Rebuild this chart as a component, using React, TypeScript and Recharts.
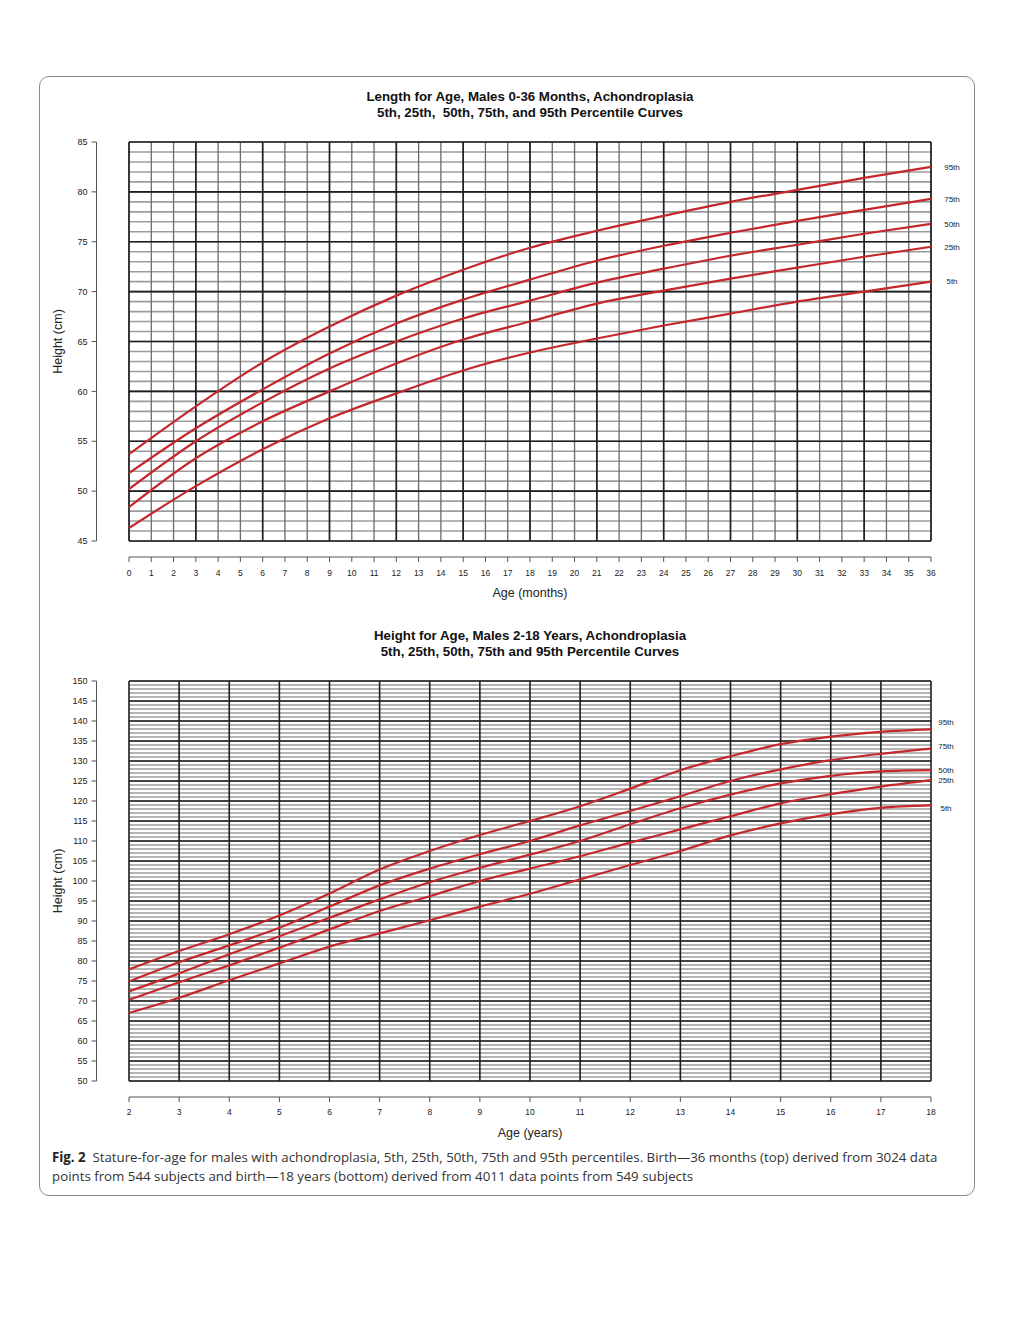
import React from "react";
import { LineChart, Line, XAxis, YAxis, CartesianGrid } from "recharts";

// Birth - 36 months (top panel), every 3 months
const infantMonths = [0, 3, 6, 9, 12, 15, 18, 21, 24, 27, 30, 33, 36];
const infantP5 = [46.3, 50.5, 54.2, 57.3, 59.8, 62.1, 63.9, 65.3, 66.6, 67.8, 69.0, 70.0, 71.0];
const infantP25 = [48.4, 53.3, 57.0, 60.0, 62.8, 65.2, 67.0, 68.8, 70.1, 71.3, 72.4, 73.5, 74.5];
const infantP50 = [50.2, 55.0, 58.9, 62.3, 65.0, 67.3, 69.1, 70.9, 72.3, 73.6, 74.7, 75.8, 76.8];
const infantP75 = [51.8, 56.3, 60.2, 63.8, 66.8, 69.2, 71.2, 73.1, 74.6, 75.9, 77.1, 78.2, 79.3];
const infantP95 = [53.7, 58.5, 62.9, 66.5, 69.6, 72.2, 74.4, 76.1, 77.6, 79.0, 80.2, 81.4, 82.5];

// 2 - 18 years (bottom panel), one value per year
const childYears = [2, 3, 4, 5, 6, 7, 8, 9, 10, 11, 12, 13, 14, 15, 16, 17, 18];
const childP5 = [67.0, 70.8, 75.2, 79.4, 83.6, 86.9, 90.2, 93.6, 96.8, 100.4, 104.0, 107.5, 111.4, 114.4, 116.7, 118.3, 118.9];
const childP25 = [70.3, 74.7, 78.9, 83.3, 87.9, 92.5, 96.2, 100.0, 103.1, 106.2, 109.6, 112.9, 116.2, 119.4, 121.7, 123.6, 125.2];
const childP50 = [72.4, 76.9, 81.7, 86.2, 90.8, 95.4, 99.7, 103.3, 106.6, 110.0, 114.2, 118.2, 121.6, 124.4, 126.3, 127.4, 127.7];
const childP75 = [74.9, 79.7, 83.9, 88.3, 93.6, 98.9, 103.1, 106.7, 110.0, 113.9, 117.5, 121.2, 125.0, 127.9, 130.2, 131.8, 133.1];
const childP95 = [77.9, 82.5, 86.7, 91.4, 96.9, 102.9, 107.5, 111.5, 115.0, 118.7, 123.1, 127.7, 131.2, 134.2, 136.1, 137.3, 137.9];

const seriesKeys = ["p95", "p75", "p50", "p25", "p5"];
const seriesNames = ["95th", "75th", "50th", "25th", "5th"];

function range(from: number, to: number, step: number): number[] {
  const out: number[] = [];
  for (let v = from; v <= to + 1e-9; v += step) out.push(Math.round(v * 100) / 100);
  return out;
}

const monthTicks = range(0, 36, 1);
const monthMajor = range(0, 36, 3);
const infantCmTicks = range(45, 85, 5);
const infantCmMinor = range(45, 85, 1);
const yearTicks = range(2, 18, 1);
const childCmTicks = range(50, 150, 5);
const childCmMinor = range(50, 150, 1);

const infantRows = infantMonths.map((m, i) => ({
  age: m,
  p5: infantP5[i],
  p25: infantP25[i],
  p50: infantP50[i],
  p75: infantP75[i],
  p95: infantP95[i],
}));

const childRows = childYears.map((a, i) => ({
  age: a,
  p5: childP5[i],
  p25: childP25[i],
  p50: childP50[i],
  p75: childP75[i],
  p95: childP95[i],
}));

const FONT = '"Liberation Sans", Arial, Helvetica, sans-serif';
const RED = "#c4282d";
const AXIS = "#555";
const CHART_W = 934;
const CHART_H = 480;
const MARGIN = { top: 12, right: 43, bottom: 19, left: 29 };
const PLOT_W = 802;
const GAP = 16; // R draws its axes clear of the plot box

interface PanelProps {
  top: number;
  marginTop: number;
  rows: any[];
  xTicks: number[];
  xMinor: number[];
  xMajor: number[];
  xMinorStroke: string;
  yTicks: number[];
  yMinor: number[];
  xTitle: string;
  labelDx: number;
  nudges: number[];
  tickDy: number;
}

function Panel(p: PanelProps) {
  const plotH = CHART_H - p.marginTop - MARGIN.bottom - 50;

  const xTick = (props: any) => {
    const { x, y, payload } = props;
    const ay = y + GAP;
    return (
      <g>
        {payload.value === p.xTicks[0] && (
          <line x1={x} x2={x + PLOT_W} y1={ay} y2={ay} stroke={AXIS} strokeWidth={1} />
        )}
        <line x1={x} x2={x} y1={ay} y2={ay + 5} stroke={AXIS} strokeWidth={1} />
        <text x={x} y={ay + p.tickDy} textAnchor="middle" fontSize={8.5} fill="#222" fontFamily={FONT}>
          {payload.value}
        </text>
      </g>
    );
  };

  const yTick = (props: any) => {
    const { x, y, payload } = props;
    const ax = x - 32.5;
    return (
      <g>
        {payload.value === p.yTicks[0] && (
          <line x1={ax} x2={ax} y1={y} y2={y - plotH} stroke={AXIS} strokeWidth={1} />
        )}
        <line x1={ax - 5} x2={ax} y1={y} y2={y} stroke={AXIS} strokeWidth={1} />
        <text x={ax - 9} y={y} dy="0.35em" textAnchor="end" fontSize={9} fill="#222" fontFamily={FONT}>
          {payload.value}
        </text>
      </g>
    );
  };

  const xTitle = (props: any) => {
    const vb = props.viewBox || {};
    return (
      <text x={vb.x + vb.width / 2} y={vb.y + 52} dy="0.35em" textAnchor="middle" fontSize={12.5} fill="#222" fontFamily={FONT}>
        {p.xTitle}
      </text>
    );
  };

  const yTitle = (props: any) => {
    const vb = props.viewBox || {};
    const cx = vb.x + vb.width - 71;
    const cy = vb.y + vb.height / 2;
    return (
      <text x={cx} y={cy} dy="0.35em" textAnchor="middle" fontSize={12.5} fill="#222" fontFamily={FONT} transform={`rotate(-90 ${cx} ${cy})`}>
        Height (cm)
      </text>
    );
  };

  const endLabel = (name: string, nudge: number, last: number) => (props: any) => {
    if (props.index !== last) return null;
    const px = props.x ?? props.viewBox?.x;
    const py = props.y ?? props.viewBox?.y;
    return (
      <text x={px + p.labelDx} y={py + nudge} dy="0.35em" textAnchor="middle" fontSize={8} fill="#222" fontFamily={FONT}>
        {name}
      </text>
    );
  };

  const last = p.rows.length - 1;

  return (
    <div style={{ position: "absolute", left: 40, top: p.top }}>
      <LineChart
        width={CHART_W}
        height={CHART_H}
        data={p.rows}
        margin={{ ...MARGIN, top: p.marginTop }}
      >
        <XAxis
          dataKey="age"
          type="number"
          domain={[p.xTicks[0], p.xTicks[p.xTicks.length - 1]]}
          ticks={p.xTicks}
          interval={0}
          height={50}
          tickSize={0}
          tickMargin={0}
          axisLine={false}
          tickLine={false}
          tick={xTick}
          label={xTitle}
        />
        <YAxis
          type="number"
          domain={[p.yTicks[0], p.yTicks[p.yTicks.length - 1]]}
          ticks={p.yTicks}
          interval={0}
          width={60}
          tickSize={0}
          tickMargin={0}
          axisLine={false}
          tickLine={false}
          tick={yTick}
          label={yTitle}
        />
        <CartesianGrid
          horizontalValues={p.yMinor}
          vertical={false}
          stroke="#9c9c9c"
          strokeWidth={1.6}
        />
        {p.xMinor.length > 0 && (
          <CartesianGrid
            verticalValues={p.xMinor}
            horizontal={false}
            stroke={p.xMinorStroke}
            strokeWidth={1.3}
          />
        )}
        <CartesianGrid
          horizontalValues={p.yTicks}
          verticalValues={p.xMajor}
          stroke="#1e1e1e"
          strokeWidth={1.6}
        />
        {seriesKeys.map((k, i) => (
          <Line
            key={k}
            type="monotone"
            dataKey={k}
            stroke={RED}
            strokeWidth={2.2}
            dot={false}
            isAnimationActive={false}
            label={endLabel(seriesNames[i], p.nudges[i], last)}
          />
        ))}
      </LineChart>
    </div>
  );
}

function Title({ top, lines }: { top: number; lines: string[] }) {
  return (
    <div
      style={{
        position: "absolute",
        left: 130,
        top,
        width: 800,
        textAlign: "center",
        fontFamily: FONT,
        fontWeight: 700,
        fontSize: 13.3,
        lineHeight: "15.5px",
        color: "#111",
        whiteSpace: "pre",
      }}
    >
      {lines.map((l) => (
        <div key={l}>{l}</div>
      ))}
    </div>
  );
}

export default function App() {
  return (
    <div style={{ position: "absolute", left: 0, top: 0, width: 1024, height: 1332, background: "#fff" }}>
      <div
        style={{
          position: "absolute",
          left: 39,
          top: 76,
          width: 936,
          height: 1120,
          boxSizing: "border-box",
          border: "1.5px solid #8a8a8a",
          borderRadius: 10,
        }}
      />
      <Title
        top={89}
        lines={[
          "Length for Age, Males 0-36 Months, Achondroplasia",
          "5th, 25th,  50th, 75th, and 95th Percentile Curves",
        ]}
      />
      <Panel
        top={130}
        marginTop={12}
        rows={infantRows}
        xTicks={monthTicks}
        xMinor={monthTicks}
        xMajor={monthMajor}
        xMinorStroke="#6a6a6a"
        yTicks={infantCmTicks}
        yMinor={infantCmMinor}
        xTitle="Age (months)"
        labelDx={21}
        nudges={[0, 0, 0, 0, 0]}
        tickDy={19}
      />
      <Title
        top={628}
        lines={[
          "Height for Age, Males 2-18 Years, Achondroplasia",
          "5th, 25th, 50th, 75th and 95th Percentile Curves",
        ]}
      />
      <Panel
        top={670}
        marginTop={11}
        rows={childRows}
        xTicks={yearTicks}
        xMinor={[]}
        xMajor={yearTicks}
        xMinorStroke="#6a6a6a"
        yTicks={childCmTicks}
        yMinor={childCmMinor}
        xTitle="Age (years)"
        labelDx={15}
        nudges={[-7, -2.5, 0, 0, 2.5]}
        tickDy={18}
      />
      <div
        style={{
          position: "absolute",
          left: 52,
          top: 1148,
          width: 920,
          fontFamily: '"Open Sans", "Noto Sans", sans-serif',
          fontSize: 13.3,
          lineHeight: "19px",
          color: "#333",
          whiteSpace: "nowrap",
        }}
      >
        <span style={{ fontWeight: 700, color: "#222" }}>Fig. 2</span>
        {"\u2002"}Stature-for-age for males with achondroplasia, 5th, 25th, 50th, 75th and 95th percentiles. Birth—36 months (top) derived from 3024 data
        <br />
        points from 544 subjects and birth—18 years (bottom) derived from 4011 data points from 549 subjects
      </div>
    </div>
  );
}
